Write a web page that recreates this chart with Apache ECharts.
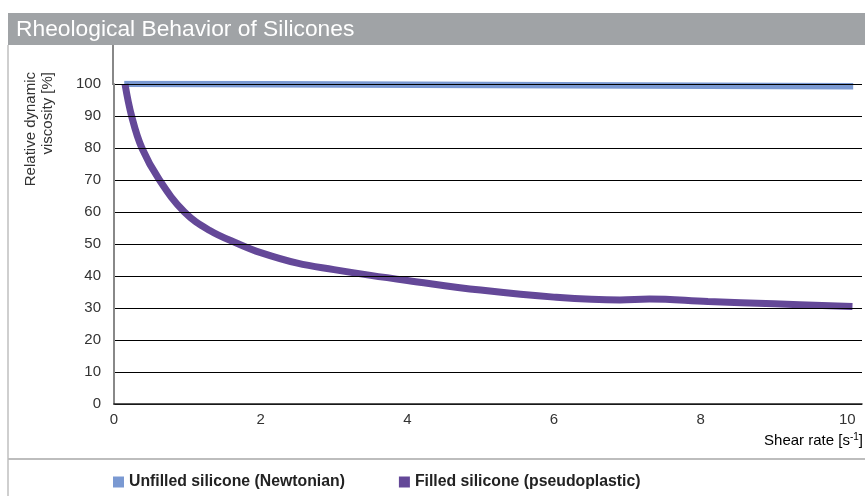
<!DOCTYPE html>
<html>
<head>
<meta charset="utf-8">
<script src="https://cdn.jsdelivr.net/npm/echarts@6/dist/echarts.min.js"></script>
<style>
html,body{margin:0;padding:0;background:#fff;}
#c{width:865px;height:496px;}
</style>
</head>
<body>
<div id="c"></div>
<script>
const titleText = 'Rheological Behavior of Silicones';
const yAxisName = ['Relative dynamic', 'viscosity [%]'];
const seriesNames = ['Unfilled silicone (Newtonian)', 'Filled silicone (pseudoplastic)'];
const xTicks = [0, 2, 4, 6, 8, 10];
const yTicks = [0, 10, 20, 30, 40, 50, 60, 70, 80, 90, 100];

const unfilledX = [0.14, 10.08];
const unfilledY = [100.1, 99.3];

const filledX = [0.15, 0.24, 0.38, 0.62, 0.96, 1.3, 1.7, 2.0, 2.5, 3.0, 3.5, 4.0, 5.0, 6.0, 6.9, 7.3, 8.1, 9.0, 10.07];
const filledY = [100, 90, 80, 70, 60, 54.3, 50, 47.3, 44, 42, 40.2, 38.6, 35.6, 33.4, 32.5, 32.8, 32, 31.3, 30.5];

const FONT = '"Liberation Sans", Arial, Helvetica, sans-serif';
const chart = echarts.init(document.getElementById('c'));

chart.setOption({
  animation: false,
  backgroundColor: '#fff',
  grid: { left: 114, right: 0, top: 84, bottom: 92, containLabel: false },
  xAxis: {
    type: 'value', min: 0, max: 10.2, interval: 2, z: 5,
    axisLine: { show: true, lineStyle: { color: '#222', width: 1.5 } },
    axisTick: { show: false },
    splitLine: { show: false },
    axisLabel: {
      margin: 8, color: '#333', fontSize: 15, fontFamily: FONT,
      formatter: v => (xTicks.indexOf(v) >= 0 ? String(v) : '')
    }
  },
  yAxis: {
    type: 'value', min: 0, max: 100, interval: 10, z: 5,
    axisLine: { show: true, lineStyle: { color: '#888', width: 2 } },
    axisTick: { show: false },
    splitLine: { show: true, lineStyle: { color: '#000', width: 1 } },
    axisLabel: {
      margin: 13, color: '#333', fontSize: 15, fontFamily: FONT,
      formatter: v => (yTicks.indexOf(v) >= 0 ? String(v) : '')
    }
  },
  legend: {
    left: 113, top: 474, padding: 0, icon: 'rect', itemWidth: 11, itemHeight: 11, itemGap: 54,
    textStyle: { fontSize: 15.8, fontWeight: 'bold', color: '#222', fontFamily: FONT },
    data: seriesNames
  },
  series: [
    {
      name: seriesNames[0], type: 'line', z: 2, symbol: 'none',
      data: unfilledX.map((x, i) => [x, unfilledY[i]]),
      lineStyle: { color: '#7a99d2', width: 6.5, cap: 'butt' },
      itemStyle: { color: '#7a99d2' }
    },
    {
      name: seriesNames[1], type: 'line', z: 3, symbol: 'none', smooth: 0.4,
      data: filledX.map((x, i) => [x, filledY[i]]),
      lineStyle: { color: '#644898', width: 7, cap: 'butt' },
      itemStyle: { color: '#644898' }
    }
  ],
  graphic: [
    { type: 'rect', shape: { x: 8, y: 13, width: 857, height: 32 }, style: { fill: '#a0a3a6' }, silent: true },
    { type: 'text', x: 16, y: 30, style: { text: titleText, fill: '#fff', font: '22.8px ' + FONT, verticalAlign: 'middle', align: 'left' } },
    { type: 'line', shape: { x1: 8, y1: 45, x2: 8, y2: 496 }, style: { stroke: '#cfcfcf', lineWidth: 2 } },
    { type: 'line', shape: { x1: 8, y1: 459, x2: 865, y2: 459 }, style: { stroke: '#bdbdbd', lineWidth: 2 } },
    { type: 'line', shape: { x1: 113, y1: 45, x2: 113, y2: 85 }, style: { stroke: '#888', lineWidth: 2 } },
    { type: 'text', x: 31, y: 72, rotation: Math.PI / 2, style: { text: yAxisName[0], fill: '#333', font: '15px ' + FONT, align: 'right', verticalAlign: 'middle' } },
    { type: 'text', x: 48, y: 72, rotation: Math.PI / 2, style: { text: yAxisName[1], fill: '#333', font: '15px ' + FONT, align: 'right', verticalAlign: 'middle' } },
    { type: 'text', x: 863, y: 441, style: {
        text: '{n|Shear rate [s}{s|-1}{n|]}', align: 'right', verticalAlign: 'middle',
        rich: { n: { fontSize: 15, fontFamily: FONT, color: '#333' }, s: { fontSize: 10, fontFamily: FONT, color: '#333', verticalAlign: 'top', padding: [0, 0, 8, 0] } }
      } }
  ]
});
</script>
</body>
</html>
